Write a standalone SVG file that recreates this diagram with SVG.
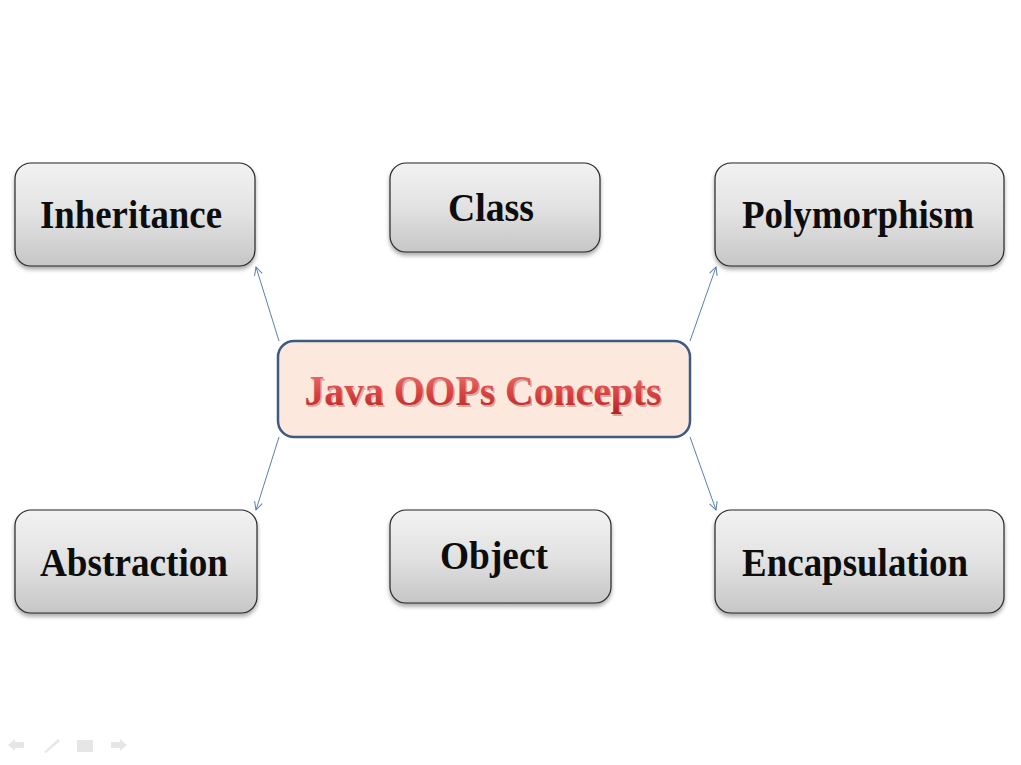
<svg xmlns="http://www.w3.org/2000/svg" width="1021" height="765" viewBox="0 0 1021 765">
<defs>
<linearGradient id="gbox" x1="0" y1="0" x2="0" y2="1">
<stop offset="0" stop-color="#f2f2f2"/>
<stop offset="0.5" stop-color="#e2e2e2"/>
<stop offset="1" stop-color="#c6c6c6"/>
</linearGradient>
<linearGradient id="gred" x1="0" y1="0" x2="0" y2="1">
<stop offset="0" stop-color="#ee7878"/>
<stop offset="0.55" stop-color="#d84444"/>
<stop offset="1" stop-color="#b82020"/>
</linearGradient>
<filter id="sh" x="-10%" y="-10%" width="120%" height="130%">
<feGaussianBlur in="SourceAlpha" stdDeviation="2"/>
<feOffset dx="0" dy="3" result="b"/>
<feComponentTransfer><feFuncA type="linear" slope="0.35"/></feComponentTransfer>
<feMerge><feMergeNode/><feMergeNode in="SourceGraphic"/></feMerge>
</filter>
<marker id="arr" viewBox="0 0 10 10" refX="9" refY="5" markerWidth="10" markerHeight="10" orient="auto" markerUnits="userSpaceOnUse">
<path d="M1,1 L9,5 L1,9" fill="none" stroke="#5b7fae" stroke-width="1"/>
</marker>
</defs>
<style>
.box{fill:url(#gbox);stroke:#262626;stroke-width:1.2;filter:url(#sh)}
.lbl{font-family:"Liberation Serif","Times New Roman",serif;font-weight:bold;font-size:40px;fill:#0d0d0d;text-anchor:middle}
.con{stroke:#5b7fae;stroke-width:1;fill:none;marker-end:url(#arr)}
.nav{fill:#e6e6e6}
.ctr{font-family:"Liberation Serif","Times New Roman",serif;font-weight:bold;font-size:43px;text-anchor:middle}
</style>
<rect width="1021" height="765" fill="#ffffff"/>
<g id="connectors">
<line class="con" x1="279" y1="341" x2="256" y2="267"/>
<line class="con" x1="690" y1="341" x2="716" y2="267"/>
<line class="con" x1="279" y1="437" x2="256" y2="510"/>
<line class="con" x1="690" y1="437" x2="716" y2="510"/>
</g>
<g id="inheritance">
<rect class="box" x="15" y="163" width="240" height="103" rx="16"/>
<text class="lbl" x="131" y="228" textLength="182" lengthAdjust="spacingAndGlyphs">Inheritance</text>
</g>
<g id="class">
<rect class="box" x="390" y="163" width="210" height="89" rx="16"/>
<text class="lbl" x="491" y="221" textLength="86" lengthAdjust="spacingAndGlyphs">Class</text>
</g>
<g id="polymorphism">
<rect class="box" x="715" y="163" width="289" height="103" rx="16"/>
<text class="lbl" x="858" y="228" textLength="232" lengthAdjust="spacingAndGlyphs">Polymorphism</text>
</g>
<g id="center">
<rect x="278" y="341" width="412" height="96" rx="16" fill="#fce8dd" stroke="#3e5a80" stroke-width="2.5"/>
<text class="ctr" x="483" y="405" fill="#7a2020" opacity="0.3" textLength="357" lengthAdjust="spacingAndGlyphs" transform="translate(1.5,2)">Java OOPs Concepts</text>
<text class="ctr" x="483" y="405" fill="url(#gred)" textLength="357" lengthAdjust="spacingAndGlyphs">Java OOPs Concepts</text>
</g>
<g id="abstraction">
<rect class="box" x="15" y="510" width="242" height="103" rx="16"/>
<text class="lbl" x="134" y="576" textLength="188" lengthAdjust="spacingAndGlyphs">Abstraction</text>
</g>
<g id="object">
<rect class="box" x="390" y="510" width="221" height="93" rx="16"/>
<text class="lbl" x="494" y="569" textLength="108" lengthAdjust="spacingAndGlyphs">Object</text>
</g>
<g id="encapsulation">
<rect class="box" x="715" y="510" width="289" height="103" rx="16"/>
<text class="lbl" x="855" y="576" textLength="226" lengthAdjust="spacingAndGlyphs">Encapsulation</text>
</g>
<g id="nav">
<path class="nav" d="M8,745 L15,739 L15,742 L24,742 L24,748 L15,748 L15,751 Z"/>
<path class="nav" d="M44,752 L58,739 L60,741 L46,753 Z"/>
<rect class="nav" x="77" y="740" width="16" height="12"/>
<path class="nav" d="M127,745 L120,739 L120,742 L111,742 L111,748 L120,748 L120,751 Z"/>
</g>
</svg>
